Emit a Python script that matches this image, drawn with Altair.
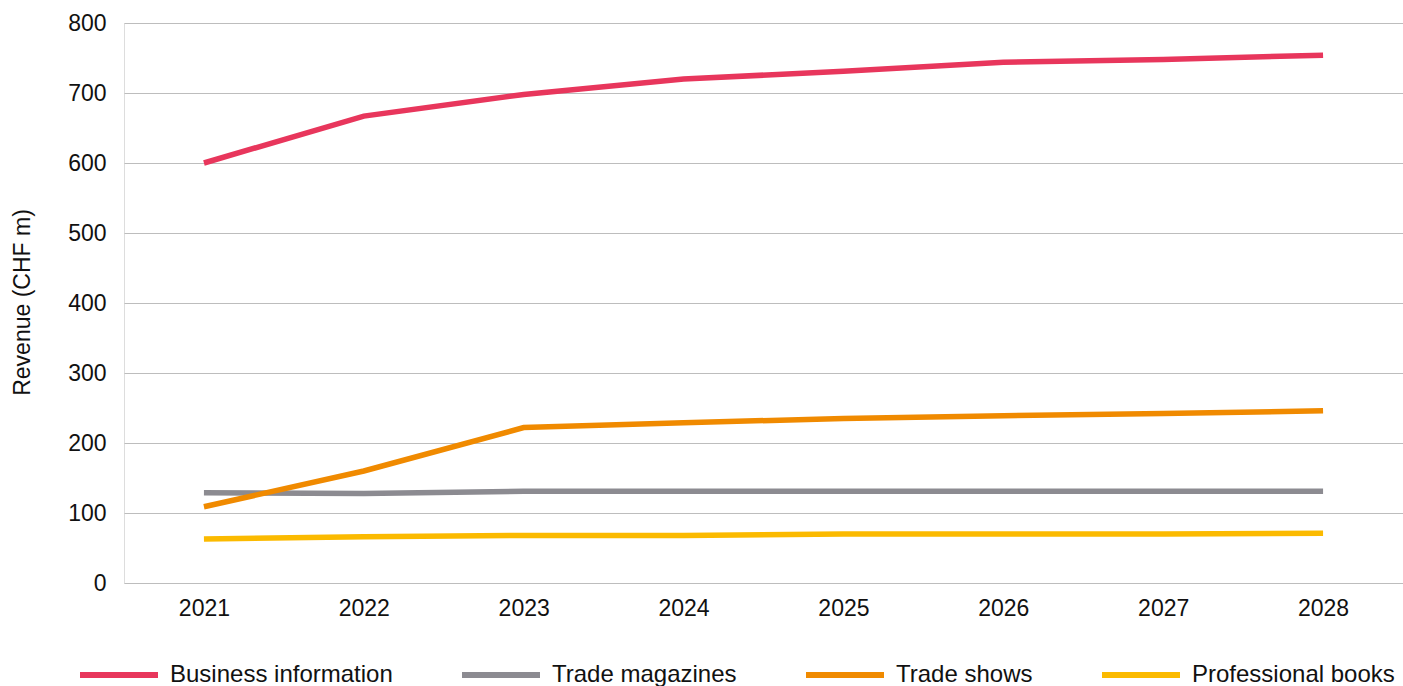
import altair as alt
import pandas as pd

years = ["2021", "2022", "2023", "2024", "2025", "2026", "2027", "2028"]
series_names = ["Business information", "Trade magazines", "Trade shows", "Professional books"]
business_information = [600, 667, 698, 720, 731, 744, 748, 754]
trade_magazines = [129, 128, 131, 131, 131, 131, 131, 131]
trade_shows = [109, 160, 222, 229, 235, 239, 242, 246]
professional_books = [63, 66, 68, 68, 70, 70, 70, 71]
colors = ["#E8365C", "#8C8B91", "#F08A00", "#FBBA00"]
y_ticks = [0, 100, 200, 300, 400, 500, 600, 700, 800]

rows = []
for name, vals in zip(series_names, [business_information, trade_magazines, trade_shows, professional_books]):
    for yr, v in zip(years, vals):
        rows.append({"Year": yr, "Series": name, "Revenue": v})
df = pd.DataFrame(rows)

FONT = "Liberation Sans"

chart = alt.Chart(df).mark_line(strokeWidth=5.5, strokeCap="butt").encode(
    x=alt.X("Year:O", sort=years,
            scale=alt.Scale(type="point", padding=0.5),
            axis=alt.Axis(title=None, labelAngle=0, labelFontSize=23, labelFont=FONT,
                          labelColor="#111111", labelPadding=14, ticks=False, domain=False, grid=False)),
    y=alt.Y("Revenue:Q",
            scale=alt.Scale(domain=[0, 800], nice=False, zero=True),
            axis=alt.Axis(title="Revenue (CHF m)", values=y_ticks, labelFontSize=23, labelFont=FONT,
                          labelColor="#111111", labelPadding=18, ticks=False, domain=False,
                          grid=True, gridColor="#BDBDBD", gridWidth=1,
                          titleFont=FONT, titleFontSize=23, titleFontWeight="normal", titleColor="#111111",
                          titleAngle=-90, titleX=-102, titleY=279, titleAlign="center", titleBaseline="middle")),
    color=alt.Color("Series:N",
                    scale=alt.Scale(domain=series_names, range=colors),
                    sort=series_names,
                    legend=alt.Legend(title=None, orient="none", direction="horizontal", columns=4,
                                      legendX=-47, legendY=610, symbolType="stroke",
                                      symbolSize=6084, symbolStrokeWidth=6, labelFontSize=24,
                                      labelFont=FONT, labelColor="#111111", labelOffset=9,
                                      columnPadding=57, padding=0, labelLimit=400)),
).properties(
    width=1279,
    height=560,
    autosize=alt.AutoSizeParams(type="none"),
    padding={"left": 124, "top": 23, "right": 0, "bottom": 103},
).configure_view(stroke=None).configure(background="white")

chart.save("out.html", embed_options={"renderer": "svg", "actions": False})
